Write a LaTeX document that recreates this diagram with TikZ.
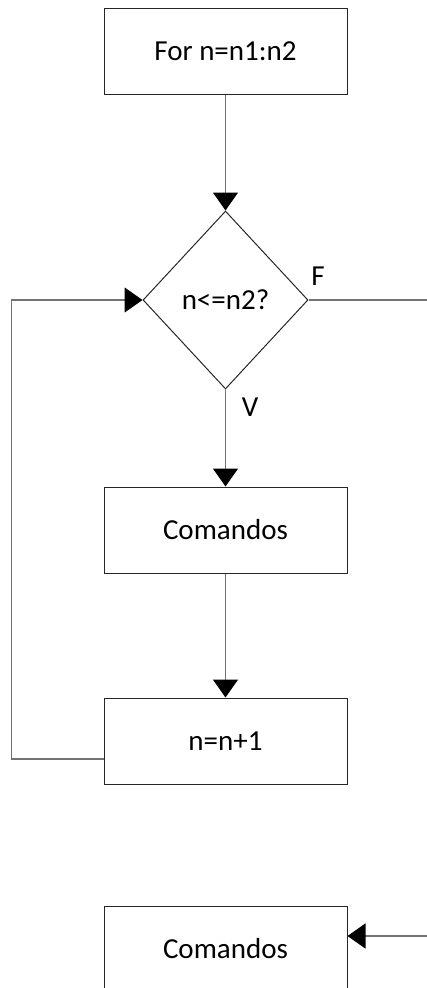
\documentclass[tikz,border=0pt]{standalone}
\usepackage{fontspec}
\setmainfont{Carlito}
\usetikzlibrary{shapes.geometric,arrows.meta}

\begin{document}
\begin{tikzpicture}[x=1pt,y=-1pt,
    caixa/.style={draw=black!85, line width=1pt, minimum width=243pt, minimum height=86pt, inner sep=0pt, font=\fontsize{29}{34}\selectfont},
    decisao/.style={diamond, draw=black!85, line width=1pt, minimum width=165pt, minimum height=178pt, inner sep=0pt, font=\fontsize{29}{34}\selectfont},
    rotulo/.style={font=\fontsize{29}{34}\selectfont, inner sep=0pt},
    linha/.style={draw=black!55, line width=1.3pt},
    fluxo/.style={linha, -{Triangle[length=18pt,width=25pt,color=black]}}]
    \useasboundingbox (0,0) rectangle (427,988);
    % caixas:
    \node[caixa] (inicio) at (225.5,51.5) {For n=n1:n2}; % laco for
    \node[decisao] (cond) at (225.5,300) {n<=n2?}; % teste
    \node[caixa] (cmd) at (225.5,530) {Comandos};
    \node[caixa] (incr) at (225.5,741) {n=n+1};
    \node[caixa] (cmd2) at (225.5,949) {Comandos}; % depois do laco
    % pontas soltas:
    \coordinate (saida) at (427,300);
    \coordinate (entrada) at (427,936);
    % rotulos:
    \node[rotulo] (falso) at (318,276) {F};
    \node[rotulo] (verd) at (250,407) {V};
    % setas:
\draw[fluxo] (inicio) -- (cond);
\draw[fluxo] (cond) -- (cmd);
\draw[fluxo] (cmd) -- (incr);
\draw[fluxo] ([yshift=-18pt]incr.west) -- ++(-92,0) |- (cond.west);
\draw[linha] (cond.east) -- (saida);
\draw[fluxo] (entrada) -- (entrada -| cmd2.east);
\end{tikzpicture}
\end{document}
